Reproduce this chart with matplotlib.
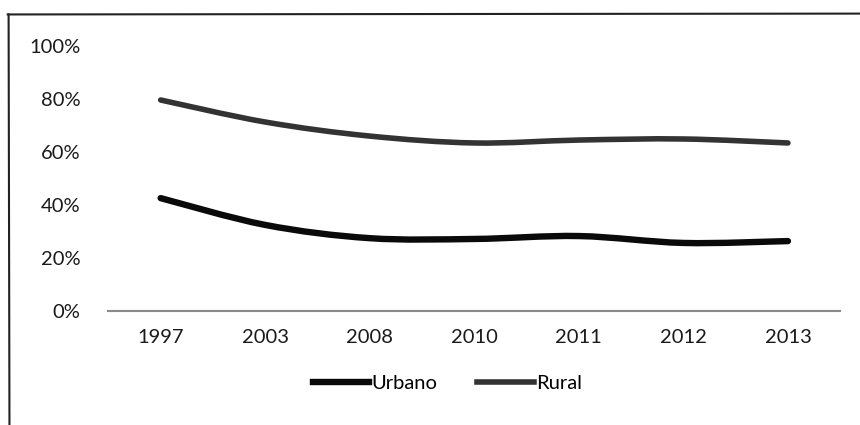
import numpy as np
import matplotlib
matplotlib.use("Agg")
import matplotlib.pyplot as plt
from matplotlib.path import Path
from matplotlib.patches import PathPatch
from matplotlib.lines import Line2D

plt.rcParams['font.family'] = ['Lato', 'DejaVu Sans']

anos = ['1997', '2003', '2008', '2010', '2011', '2012', '2013']
urbano = [0.426, 0.325, 0.275, 0.272, 0.283, 0.257, 0.264]
rural = [0.796, 0.713, 0.660, 0.634, 0.645, 0.649, 0.634]
yticks = [0, 0.2, 0.4, 0.6, 0.8, 1.0]
ylabels = ['0%', '20%', '40%', '60%', '80%', '100%']


def curva_suave(x, y):
    # bezier tipo Excel "linha suavizada" (catmull-rom)
    x = np.asarray(x, float)
    y = np.asarray(y, float)
    verts = [(x[0], y[0])]
    codes = [Path.MOVETO]
    n = len(x)
    for i in range(n - 1):
        x0, y0 = (x[i - 1], y[i - 1]) if i > 0 else (x[i], y[i])
        x3, y3 = (x[i + 2], y[i + 2]) if i + 2 < n else (x[i + 1], y[i + 1])
        c1 = (x[i] + (x[i + 1] - x0) / 6, y[i] + (y[i + 1] - y0) / 6)
        c2 = (x[i + 1] - (x3 - x[i]) / 6, y[i + 1] - (y3 - y[i]) / 6)
        verts += [c1, c2, (x[i + 1], y[i + 1])]
        codes += [Path.CURVE4] * 3
    return Path(verts, codes)


fig = plt.figure(figsize=(8.6, 4.25), dpi=100)
ax = fig.add_axes([0.126, 0.268, 0.851, 0.624])

pos = np.arange(len(anos))
cor_urb = '#0a0a0a'
cor_rur = '#333333'
ax.add_patch(PathPatch(curva_suave(pos, rural), fill=False, edgecolor=cor_rur,
                       lw=4.0, capstyle='round', joinstyle='round'))
ax.add_patch(PathPatch(curva_suave(pos, urbano), fill=False, edgecolor=cor_urb,
                       lw=4.6, capstyle='round', joinstyle='round'))

ax.set_xlim(-0.5, len(anos) - 0.5)
ax.set_ylim(0, 1.0)
ax.set_xticks(pos)
ax.set_xticklabels(anos)
ax.set_yticks(yticks)
ax.set_yticklabels(ylabels)
ax.tick_params(axis='both', length=0, labelsize=14.5, colors='#1a1a1a')
ax.tick_params(axis='y', pad=20)
ax.tick_params(axis='x', pad=13)
for s in ['top', 'right', 'left']:
    ax.spines[s].set_visible(False)
ax.spines['bottom'].set_color('#8a8a8a')
ax.spines['bottom'].set_linewidth(1.5)

handles = [Line2D([], [], color=cor_urb, lw=4.6),
           Line2D([], [], color=cor_rur, lw=4.0)]
fig.legend(handles, ['Urbano', 'Rural'], loc='center', bbox_to_anchor=(0.52, 0.097),
           ncol=2, frameon=False, fontsize=14.5, handlelength=2.8,
           handletextpad=0.1, columnspacing=2.0)

# moldura do grafico (digitalizado)
fig.add_artist(Line2D([0.009, 1.0], [0.966, 0.968], transform=fig.transFigure,
                      color='#222222', lw=1.5))
fig.add_artist(Line2D([0.010, 0.011], [0.966, 0.0], transform=fig.transFigure,
                      color='#222222', lw=1.5))

fig.savefig('out.png', dpi=100)
